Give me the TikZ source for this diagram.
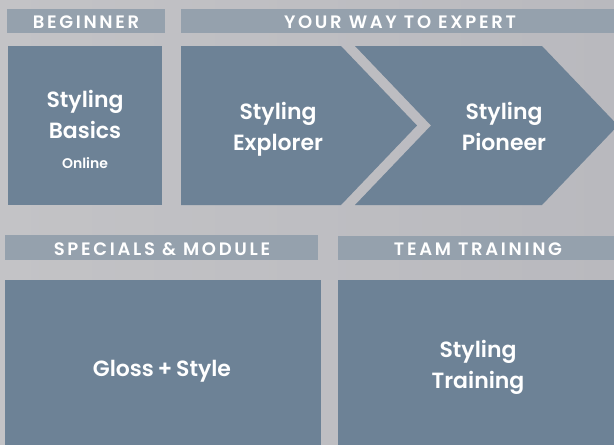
\documentclass[tikz,border=0pt]{standalone}
\usepackage{fontspec}
\setmainfont{Poppins}[BoldFont={* SemiBold}]
\newfontfamily\hdrfont{Poppins}[LetterSpace=15,BoldFont={* SemiBold}]
\definecolor{bgL}{HTML}{C3C3C6}
\definecolor{bgR}{HTML}{B9B9BE}
\definecolor{boxc}{HTML}{6D8296}
\definecolor{hdrc}{HTML}{95A1AD}
\begin{document}
\begin{tikzpicture}[x=1pt,y=-1pt,
  boxfill/.style={fill=boxc,draw=none},
  hdrbar/.style={fill=hdrc,draw=none},
  hdrtext/.style={text=white,font=\hdrfont\bfseries\fontsize{18}{18}\selectfont},
  bigtext/.style={text=white,align=center,font=\bfseries\fontsize{22}{31}\selectfont},
  smalltext/.style={text=white,font=\bfseries\fontsize{14}{14}\selectfont}]
\useasboundingbox (0,0) rectangle (614,445);
\clip (0,0) rectangle (614,445);
\shade[left color=bgL,right color=bgR] (0,0) rectangle (614,445);
% header bars
\fill[hdrbar] (7,9) rectangle (165,33);
\fill[hdrbar] (181,9) rectangle (614,33);
\fill[hdrbar] (5,235) rectangle (318,260);
\fill[hdrbar] (338,236) rectangle (614,260);
\node[hdrtext] (hbeg) at (86,22.5) {BEGINNER};
\node[hdrtext] (hway) at (400,22.5) {YOUR WAY TO EXPERT};
\node[hdrtext] (hspec) at (162,249) {SPECIALS \& MODULE};
\node[hdrtext] (hteam) at (478,249) {TEAM TRAINING};
% top boxes
\fill[boxfill] (8,46) rectangle (162,205);
\fill[boxfill] (181,46) -- (341,46) -- (417,125.5) -- (341,205) -- (181,205) -- cycle;
\fill[boxfill] (355,46) -- (542,46) -- (618,125.5) -- (542,205) -- (355,205) -- (431,125.5) -- cycle;
% bottom boxes
\fill[boxfill] (5,280) rectangle (321,445);
\fill[boxfill] (338,280) rectangle (614,445);
% texts
\node[bigtext] (basics) at (85,114) {Styling\\Basics};
\node[smalltext] (online) at (85,163) {Online};
\node[bigtext] (explorer) at (278,129) {Styling\\Explorer};
\node[bigtext] (pioneer) at (504,126) {Styling\\Pioneer};
\node[bigtext] (gloss) at (162,371) {Gloss\,+\,Style};
\node[bigtext] (training) at (478,367) {Styling\\Training};
\end{tikzpicture}
\end{document}
